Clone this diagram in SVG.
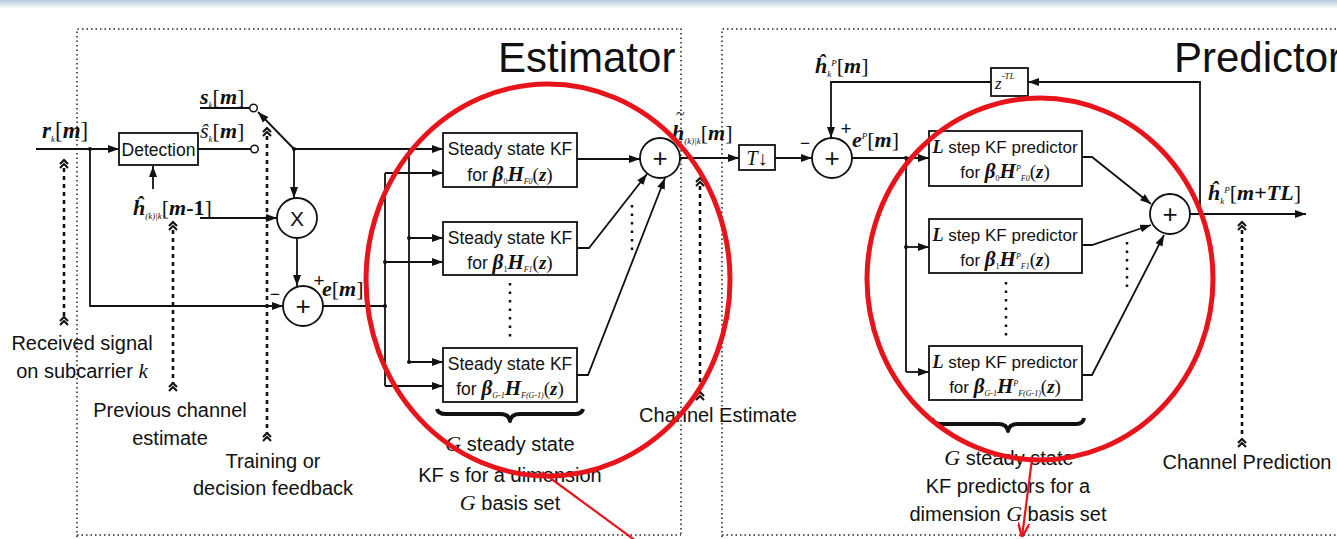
<svg xmlns="http://www.w3.org/2000/svg" xmlns:xlink="http://www.w3.org/1999/xlink" width="1337" height="539" viewBox="0 0 1337 539">
<defs>
<style>
.s{font-family:"Liberation Sans",Arial,sans-serif;fill:#111}
.m{font-family:"Liberation Serif","Times New Roman",serif;fill:#111}
.bi{font-weight:bold;font-style:italic}
.it{font-style:italic}
.ln{fill:none;stroke:#111;stroke-width:1.8}
.bx{fill:#fff;stroke:#111;stroke-width:1.8}
.bd{fill:none;stroke:#222;stroke-width:1.5;stroke-dasharray:1.5 3}
.dash{fill:none;stroke:#111;stroke-width:2.6;stroke-dasharray:4 4}
.dots{fill:none;stroke:#111;stroke-width:2.5;stroke-dasharray:2.5 6}
.red{fill:none;stroke:#e8141b;stroke-width:5}
.brace{fill:none;stroke:#111;stroke-width:4;stroke-linejoin:round}
</style>
<marker id="ah" viewBox="0 0 11 8" refX="11" refY="4" markerWidth="11" markerHeight="8" markerUnits="userSpaceOnUse" orient="auto"><path d="M0,0 L11,4 L0,8 z" fill="#111"/></marker>
<marker id="rah" viewBox="0 0 12 10" refX="12" refY="5" markerWidth="14" markerHeight="12" markerUnits="userSpaceOnUse" orient="auto"><path d="M0,0 L12,5 L0,10" fill="none" stroke="#e8141b" stroke-width="2"/></marker>
<g id="chev"><path d="M-4,4 L0,0 L4,4 M-4,8 L0,4 L4,8" fill="none" stroke="#111" stroke-width="2"/></g>
<linearGradient id="topg" x1="0" y1="0" x2="0" y2="1"><stop offset="0" stop-color="#b8cbdd"/><stop offset="1" stop-color="#ffffff"/></linearGradient>
</defs>
<rect width="1337" height="539" fill="#fff"/>
<rect width="1337" height="9" fill="url(#topg)"/>

<g id="frames">
<path class="bd" d="M77,537 V29 H681 V537"/>
<path class="bd" d="M722,537 V29 H1337"/>
<path class="bd" d="M77,535 H681 M722,535 H1337"/>
<text class="s" x="498" y="72" font-size="42">Estimator</text>
<text class="s" x="1174" y="72" font-size="42">Predictor</text>
</g>

<g id="connectors">
<path class="ln" d="M36,149 H119" marker-end="url(#ah)"/>
<path class="ln" d="M90,149 V306 H283" marker-end="url(#ah)"/>
<path class="ln" d="M153,189 V166" marker-end="url(#ah)"/>
<path class="ln" d="M200,218 H277" marker-end="url(#ah)"/>
<path class="ln" d="M200,108 H250"/>
<path class="ln" d="M198,149 H251"/>
<path class="ln" d="M294,149 L258,112" marker-end="url(#ah)"/>
<path class="ln" d="M294,149 H443" marker-end="url(#ah)"/>
<path class="ln" d="M294,149 V198" marker-end="url(#ah)"/>
<path class="ln" d="M297,238 V286" marker-end="url(#ah)"/>
<path class="ln" d="M323,306 H385"/>
<path class="ln" d="M385,173 V386"/>
<path class="ln" d="M385,173 H443" marker-end="url(#ah)"/>
<path class="ln" d="M385,262 H443" marker-end="url(#ah)"/>
<path class="ln" d="M385,386 H443" marker-end="url(#ah)"/>
<path class="ln" d="M409,149 V362"/>
<path class="ln" d="M409,238 H443" marker-end="url(#ah)"/>
<path class="ln" d="M409,362 H443" marker-end="url(#ah)"/>
<path class="ln" d="M577,159 H640" marker-end="url(#ah)"/>
<path class="ln" d="M577,248 H589 L647,174" marker-end="url(#ah)"/>
<path class="ln" d="M577,375 H588 L665,178" marker-end="url(#ah)"/>
<path class="ln" d="M680,158 H739" marker-end="url(#ah)"/>
<path class="ln" d="M775,158 H812" marker-end="url(#ah)"/>
<path class="ln" d="M1200,214 V82 H1028" marker-end="url(#ah)"/>
<path class="ln" d="M991,82 H831 V138" marker-end="url(#ah)"/>
<path class="ln" d="M852,158 H929" marker-end="url(#ah)"/>
<path class="ln" d="M906,158 V372"/>
<path class="ln" d="M906,247 H929" marker-end="url(#ah)"/>
<path class="ln" d="M906,372 H929" marker-end="url(#ah)"/>
<path class="ln" d="M1082,157 H1092 L1151,204" marker-end="url(#ah)"/>
<path class="ln" d="M1082,245 H1092 L1151,225" marker-end="url(#ah)"/>
<path class="ln" d="M1082,375 H1092 L1164,235" marker-end="url(#ah)"/>
<path class="ln" d="M1190,214 H1306" marker-end="url(#ah)"/>
<g fill="#111"><circle cx="90" cy="149" r="2"/><circle cx="294" cy="149" r="2"/><circle cx="385" cy="306" r="2"/><circle cx="385" cy="262" r="2"/><circle cx="409" cy="238" r="2"/><circle cx="409" cy="362" r="2"/><circle cx="906" cy="247" r="2"/><circle cx="906" cy="158" r="2"/></g>
<circle cx="253.5" cy="108" r="3.8" fill="#fff" stroke="#111" stroke-width="1.5"/>
<circle cx="254.5" cy="149" r="3.8" fill="#fff" stroke="#111" stroke-width="1.5"/>
<path class="dots" d="M510,283 V338 M632,205 V254 M1006,282 V336 M1127,242 V288"/>
</g>

<g id="detection">
<rect class="bx" x="119" y="133" width="79" height="32"/>
<text class="s" x="158.5" y="156" font-size="17.5" text-anchor="middle">Detection</text>
</g>

<g id="mult">
<circle class="bx" cx="297" cy="218" r="20"/>
<text class="s" x="297" y="226" font-size="21" text-anchor="middle">X</text>
</g>

<g id="sum-error">
<circle class="bx" cx="303" cy="306" r="20"/>
<text class="s" x="303" y="315" font-size="26" text-anchor="middle">+</text>
<text class="s" x="319" y="287" font-size="19" text-anchor="middle">+</text>
<text class="s" x="275" y="300" font-size="17" text-anchor="middle">−</text>
</g>

<g id="kf0">
<rect class="bx" x="443" y="133" width="134" height="54"/>
<text class="s" x="510" y="155" font-size="17.5" text-anchor="middle">Steady state KF</text>
<text class="s" x="510" y="181" font-size="17.5" text-anchor="middle">for <tspan class="m bi" font-size="21">β</tspan><tspan class="m" font-size="8" dy="3">0</tspan><tspan class="m bi" font-size="21" dy="-3">H</tspan><tspan class="m it" font-size="8" dy="3">F0</tspan><tspan class="m" font-size="19" dy="-3">(</tspan><tspan class="m bi" font-size="19">z</tspan><tspan class="m" font-size="19">)</tspan></text>
</g>
<g id="kf1">
<rect class="bx" x="443" y="222" width="134" height="53"/>
<text class="s" x="510" y="244" font-size="17.5" text-anchor="middle">Steady state KF</text>
<text class="s" x="510" y="269" font-size="17.5" text-anchor="middle">for <tspan class="m bi" font-size="21">β</tspan><tspan class="m" font-size="8" dy="3">1</tspan><tspan class="m bi" font-size="21" dy="-3">H</tspan><tspan class="m it" font-size="8" dy="3">F1</tspan><tspan class="m" font-size="19" dy="-3">(</tspan><tspan class="m bi" font-size="19">z</tspan><tspan class="m" font-size="19">)</tspan></text>
</g>
<g id="kfG">
<rect class="bx" x="443" y="348" width="134" height="54"/>
<text class="s" x="510" y="370" font-size="17.5" text-anchor="middle">Steady state KF</text>
<text class="s" x="510" y="395" font-size="17.5" text-anchor="middle">for <tspan class="m bi" font-size="21">β</tspan><tspan class="m it" font-size="8" dy="3">G-1</tspan><tspan class="m bi" font-size="21" dy="-3">H</tspan><tspan class="m it" font-size="8" dy="3">F(G-1)</tspan><tspan class="m" font-size="19" dy="-3">(</tspan><tspan class="m bi" font-size="19">z</tspan><tspan class="m" font-size="19">)</tspan></text>
</g>

<g id="sum-est">
<circle class="bx" cx="660" cy="158" r="20"/>
<text class="s" x="660" y="167" font-size="26" text-anchor="middle">+</text>
</g>

<g id="downsample">
<rect class="bx" x="739" y="145" width="36" height="25"/>
<text class="m" x="757" y="165" font-size="20" text-anchor="middle"><tspan class="it">T</tspan>↓</text>
</g>

<g id="sum-pred-error">
<circle class="bx" cx="832" cy="158" r="20"/>
<text class="s" x="832" y="167" font-size="26" text-anchor="middle">+</text>
<text class="s" x="846" y="135" font-size="19" text-anchor="middle">+</text>
<text class="s" x="805" y="149" font-size="17" text-anchor="middle">−</text>
</g>

<g id="delay">
<rect class="bx" x="991" y="68" width="37" height="28"/>
<text class="m" x="995" y="89" font-size="17"><tspan class="it">z</tspan><tspan font-size="9" class="it" dy="-10">-TL</tspan></text>
</g>

<g id="pred0">
<rect class="bx" x="929" y="131" width="153" height="55"/>
<text class="s" x="1005" y="153" font-size="17" text-anchor="middle"><tspan class="m bi" font-size="18">L</tspan> step KF predictor</text>
<text class="s" x="1005" y="178" font-size="17" text-anchor="middle">for <tspan class="m bi" font-size="21">β</tspan><tspan class="m" font-size="8" dy="3">0</tspan><tspan class="m bi" font-size="21" dy="-3">H</tspan><tspan class="m it" font-size="8" dy="-7">P</tspan><tspan class="m it" font-size="8" dy="10">F0</tspan><tspan class="m" font-size="19" dy="-3">(</tspan><tspan class="m bi" font-size="19">z</tspan><tspan class="m" font-size="19">)</tspan></text>
</g>
<g id="pred1">
<rect class="bx" x="929" y="219" width="153" height="54"/>
<text class="s" x="1005" y="241" font-size="17" text-anchor="middle"><tspan class="m bi" font-size="18">L</tspan> step KF predictor</text>
<text class="s" x="1005" y="266" font-size="17" text-anchor="middle">for <tspan class="m bi" font-size="21">β</tspan><tspan class="m" font-size="8" dy="3">1</tspan><tspan class="m bi" font-size="21" dy="-3">H</tspan><tspan class="m it" font-size="8" dy="-7">P</tspan><tspan class="m it" font-size="8" dy="10">F1</tspan><tspan class="m" font-size="19" dy="-3">(</tspan><tspan class="m bi" font-size="19">z</tspan><tspan class="m" font-size="19">)</tspan></text>
</g>
<g id="predG">
<rect class="bx" x="929" y="346" width="153" height="54"/>
<text class="s" x="1005" y="368" font-size="17" text-anchor="middle"><tspan class="m bi" font-size="18">L</tspan> step KF predictor</text>
<text class="s" x="1005" y="393" font-size="17" text-anchor="middle">for <tspan class="m bi" font-size="21">β</tspan><tspan class="m it" font-size="8" dy="3">G-1</tspan><tspan class="m bi" font-size="21" dy="-3">H</tspan><tspan class="m it" font-size="8" dy="-7">P</tspan><tspan class="m it" font-size="8" dy="10">F(G-1)</tspan><tspan class="m" font-size="19" dy="-3">(</tspan><tspan class="m bi" font-size="19">z</tspan><tspan class="m" font-size="19">)</tspan></text>
</g>

<g id="sum-pred">
<circle class="bx" cx="1170" cy="214" r="20"/>
<text class="s" x="1170" y="223" font-size="26" text-anchor="middle">+</text>
</g>

<g id="signal-labels">
<text class="m" x="42" y="138" font-size="23"><tspan class="bi">r</tspan><tspan font-size="9" class="it" dy="4">k</tspan><tspan dy="-4">[</tspan><tspan class="bi">m</tspan>]</text>
<text class="m" x="200" y="104" font-size="22"><tspan class="bi">s</tspan><tspan font-size="9" class="it" dy="4">k</tspan><tspan dy="-4">[</tspan><tspan class="bi">m</tspan>]</text>
<text class="m" x="200" y="138" font-size="22"><tspan class="it">ŝ</tspan><tspan font-size="9" class="it" dy="4">k</tspan><tspan dy="-4">[</tspan><tspan class="bi">m</tspan>]</text>
<text class="m" x="133" y="215" font-size="22"><tspan class="bi">ĥ</tspan><tspan font-size="9" class="it" dy="4">(k)|k</tspan><tspan dy="-4">[</tspan><tspan class="bi">m</tspan><tspan font-weight="bold">-1</tspan>]</text>
<text class="m" x="322" y="296" font-size="22"><tspan class="bi">e</tspan>[<tspan class="bi">m</tspan>]</text>
<text class="m" x="676" y="119" font-size="16">~</text>
<text class="m" x="672" y="140" font-size="22"><tspan class="bi">h</tspan><tspan font-size="9" class="it" dy="4">(k)|k</tspan><tspan dy="-4">[</tspan><tspan class="bi">m</tspan>]</text>
<text class="m" x="815" y="73" font-size="22"><tspan class="bi">ĥ</tspan><tspan font-size="9" class="it" dy="4">k</tspan><tspan font-size="9" class="it" dy="-11">P</tspan><tspan dy="7">[</tspan><tspan class="bi">m</tspan>]</text>
<text class="m" x="852" y="147" font-size="22"><tspan class="bi">e</tspan><tspan font-size="9" class="it" dy="-8">P</tspan><tspan dy="8">[</tspan><tspan class="bi">m</tspan>]</text>
<text class="m" x="1208" y="200" font-size="22"><tspan class="bi">ĥ</tspan><tspan font-size="9" class="it" dy="4">k</tspan><tspan font-size="9" class="it" dy="-11">P</tspan><tspan dy="7">[</tspan><tspan class="bi">m</tspan><tspan font-weight="bold">+</tspan><tspan class="bi">TL</tspan>]</text>
</g>

<g id="annotations">
<path class="dash" d="M64,168 V318"/>
<use xlink:href="#chev" x="64" y="160"/><use xlink:href="#chev" x="64" y="317"/>
<path class="dash" d="M173,230 V383"/>
<use xlink:href="#chev" x="173" y="222"/><use xlink:href="#chev" x="173" y="383"/>
<path class="dash" d="M267,136 V433"/>
<use xlink:href="#chev" x="267" y="128"/><use xlink:href="#chev" x="267" y="433"/>
<path class="dash" d="M700,186 V393"/>
<use xlink:href="#chev" x="700" y="178"/><use xlink:href="#chev" x="700" y="392"/>
<path class="dash" d="M1242,230 V438"/>
<use xlink:href="#chev" x="1242" y="222"/><use xlink:href="#chev" x="1242" y="439"/>
<text class="s" x="82" y="350" font-size="20" text-anchor="middle">Received signal</text>
<text class="s" x="82" y="378" font-size="20" text-anchor="middle">on subcarrier <tspan class="m it" font-size="21">k</tspan></text>
<text class="s" x="170" y="417" font-size="20" text-anchor="middle">Previous channel</text>
<text class="s" x="170" y="445" font-size="20" text-anchor="middle">estimate</text>
<text class="s" x="273" y="468" font-size="20" text-anchor="middle">Training or</text>
<text class="s" x="273" y="495" font-size="20" text-anchor="middle">decision feedback</text>
<text class="s" x="718" y="422" font-size="20" text-anchor="middle">Channel Estimate</text>
<text class="s" x="1247" y="469" font-size="20" text-anchor="middle">Channel Prediction</text>
<path class="brace" d="M437,409 Q438,414 446,414 H500 Q509,414 510,421 Q511,414 520,414 H575 Q582,414 583,409"/>
<path class="brace" d="M932,418 Q933,424 941,424 H998 Q1007,424 1008,431 Q1009,424 1018,424 H1076 Q1083,424 1084,418"/>
<text class="s" x="510" y="451" font-size="20" text-anchor="middle"><tspan class="m it" font-size="22">G</tspan> steady state</text>
<text class="s" x="510" y="482" font-size="20" text-anchor="middle">KF s for a dimension</text>
<text class="s" x="510" y="510" font-size="20" text-anchor="middle"><tspan class="m it" font-size="22">G</tspan> basis set</text>
<text class="s" x="1009" y="465" font-size="20" text-anchor="middle"><tspan class="m it" font-size="22">G</tspan> steady state</text>
<text class="s" x="1008" y="493" font-size="20" text-anchor="middle">KF predictors for a</text>
<text class="s" x="1008" y="521" font-size="20" text-anchor="middle">dimension <tspan class="m it" font-size="22">G</tspan> basis set</text>
</g>

<g id="highlights">
<ellipse class="red" cx="548" cy="280" rx="182" ry="196"/>
<ellipse class="red" cx="1040" cy="279" rx="173" ry="181"/>
<path d="M542,472 L636,541" fill="none" stroke="#e8141b" stroke-width="2.2"/>
<path d="M1032,459 L1022,537" fill="none" stroke="#e8141b" stroke-width="2.2" marker-end="url(#rah)"/>
</g>
</svg>
